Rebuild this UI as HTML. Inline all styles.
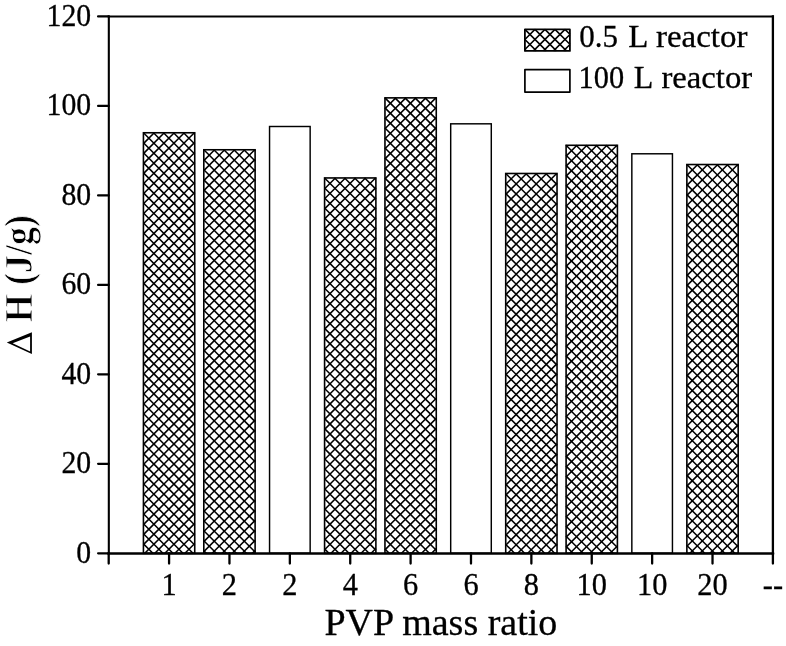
<!DOCTYPE html>
<html><head><meta charset="utf-8"><title>chart</title>
<style>
html,body{margin:0;padding:0;background:#fff;}
body{width:786px;height:646px;overflow:hidden;}
svg{display:block;filter:grayscale(1);}
text{font-family:"Liberation Serif",serif;fill:#000;stroke:#000;stroke-width:0.3px;}
.yt text{font-weight:bold;stroke:#fff;stroke-width:0.8px;}
</style></head><body>
<svg width="786" height="646" viewBox="0 0 786 646">
<rect x="0" y="0" width="786" height="646" fill="#fff"/>
<g stroke="#000" stroke-width="1.55" fill="none"><path d="M143.43,543.83L152.90,553.30M143.43,533.81L162.92,553.30M143.43,523.78L172.95,553.30M143.43,513.76L182.98,553.30M143.43,503.73L193.00,553.30M143.43,493.70L194.73,545.00M143.43,483.68L194.73,534.98M143.43,473.65L194.73,524.95M143.43,463.63L194.73,514.93M143.43,453.60L194.73,504.90M143.43,443.57L194.73,494.87M143.43,433.55L194.73,484.85M143.43,423.52L194.73,474.82M143.43,413.50L194.73,464.80M143.43,403.47L194.73,454.77M143.43,393.44L194.73,444.74M143.43,383.42L194.73,434.72M143.43,373.39L194.73,424.69M143.43,363.37L194.73,414.67M143.43,353.34L194.73,404.64M143.43,343.31L194.73,394.61M143.43,333.29L194.73,384.59M143.43,323.26L194.73,374.56M143.43,313.24L194.73,364.54M143.43,303.21L194.73,354.51M143.43,293.18L194.73,344.48M143.43,283.16L194.73,334.46M143.43,273.13L194.73,324.43M143.43,263.11L194.73,314.41M143.43,253.08L194.73,304.38M143.43,243.05L194.73,294.35M143.43,233.03L194.73,284.33M143.43,223.00L194.73,274.30M143.43,212.98L194.73,264.28M143.43,202.95L194.73,254.25M143.43,192.92L194.73,244.22M143.43,182.90L194.73,234.20M143.43,172.87L194.73,224.17M143.43,162.85L194.73,214.15M143.43,152.82L194.73,204.12M143.43,142.79L194.73,194.09M143.43,132.77L194.73,184.07M153.46,132.77L194.73,174.04M163.48,132.77L194.73,164.02M173.51,132.77L194.73,153.99M183.54,132.77L194.73,143.96M193.56,132.77L194.73,133.94"/><path d="M144.23,132.77L143.43,133.57M154.26,132.77L143.43,143.59M164.28,132.77L143.43,153.62M174.31,132.77L143.43,163.65M184.34,132.77L143.43,173.67M194.36,132.77L143.43,183.70M194.73,142.42L143.43,193.72M194.73,152.45L143.43,203.75M194.73,162.48L143.43,213.78M194.73,172.50L143.43,223.80M194.73,182.53L143.43,233.83M194.73,192.55L143.43,243.85M194.73,202.58L143.43,253.88M194.73,212.61L143.43,263.91M194.73,222.63L143.43,273.93M194.73,232.66L143.43,283.96M194.73,242.68L143.43,293.98M194.73,252.71L143.43,304.01M194.73,262.74L143.43,314.04M194.73,272.76L143.43,324.06M194.73,282.79L143.43,334.09M194.73,292.81L143.43,344.11M194.73,302.84L143.43,354.14M194.73,312.87L143.43,364.17M194.73,322.89L143.43,374.19M194.73,332.92L143.43,384.22M194.73,342.94L143.43,394.24M194.73,352.97L143.43,404.27M194.73,363.00L143.43,414.30M194.73,373.02L143.43,424.32M194.73,383.05L143.43,434.35M194.73,393.07L143.43,444.37M194.73,403.10L143.43,454.40M194.73,413.13L143.43,464.43M194.73,423.15L143.43,474.45M194.73,433.18L143.43,484.48M194.73,443.20L143.43,494.50M194.73,453.23L143.43,504.53M194.73,463.26L143.43,514.56M194.73,473.28L143.43,524.58M194.73,483.31L143.43,534.61M194.73,493.33L143.43,544.63M194.73,503.36L144.79,553.30M194.73,513.39L154.82,553.30M194.73,523.41L164.84,553.30M194.73,533.44L174.87,553.30M194.73,543.46L184.90,553.30"/></g>
<rect x="143.43" y="132.77" width="51.30" height="420.53" fill="none" stroke="#000" stroke-width="1.6"/>
<g stroke="#000" stroke-width="1.55" fill="none"><path d="M203.81,550.81L206.31,553.30M203.81,540.78L216.33,553.30M203.81,530.76L226.36,553.30M203.81,520.73L236.38,553.30M203.81,510.70L246.41,553.30M203.81,500.68L255.11,551.98M203.81,490.65L255.11,541.95M203.81,480.63L255.11,531.93M203.81,470.60L255.11,521.90M203.81,460.57L255.11,511.87M203.81,450.55L255.11,501.85M203.81,440.52L255.11,491.82M203.81,430.50L255.11,481.80M203.81,420.47L255.11,471.77M203.81,410.44L255.11,461.74M203.81,400.42L255.11,451.72M203.81,390.39L255.11,441.69M203.81,380.37L255.11,431.67M203.81,370.34L255.11,421.64M203.81,360.31L255.11,411.61M203.81,350.29L255.11,401.59M203.81,340.26L255.11,391.56M203.81,330.24L255.11,381.54M203.81,320.21L255.11,371.51M203.81,310.18L255.11,361.48M203.81,300.16L255.11,351.46M203.81,290.13L255.11,341.43M203.81,280.11L255.11,331.41M203.81,270.08L255.11,321.38M203.81,260.05L255.11,311.35M203.81,250.03L255.11,301.33M203.81,240.00L255.11,291.30M203.81,229.98L255.11,281.28M203.81,219.95L255.11,271.25M203.81,209.92L255.11,261.22M203.81,199.90L255.11,251.20M203.81,189.87L255.11,241.17M203.81,179.85L255.11,231.15M203.81,169.82L255.11,221.12M203.81,159.79L255.11,211.09M203.81,149.77L255.11,201.07M213.84,149.77L255.11,191.04M223.87,149.77L255.11,181.02M233.89,149.77L255.11,170.99M243.92,149.77L255.11,160.96M253.94,149.77L255.11,150.94"/><path d="M204.61,149.77L203.81,150.57M214.64,149.77L203.81,160.59M224.67,149.77L203.81,170.62M234.69,149.77L203.81,180.65M244.72,149.77L203.81,190.67M254.74,149.77L203.81,200.70M255.11,159.42L203.81,210.72M255.11,169.45L203.81,220.75M255.11,179.48L203.81,230.78M255.11,189.50L203.81,240.80M255.11,199.53L203.81,250.83M255.11,209.55L203.81,260.85M255.11,219.58L203.81,270.88M255.11,229.61L203.81,280.91M255.11,239.63L203.81,290.93M255.11,249.66L203.81,300.96M255.11,259.68L203.81,310.98M255.11,269.71L203.81,321.01M255.11,279.74L203.81,331.04M255.11,289.76L203.81,341.06M255.11,299.79L203.81,351.09M255.11,309.81L203.81,361.11M255.11,319.84L203.81,371.14M255.11,329.87L203.81,381.17M255.11,339.89L203.81,391.19M255.11,349.92L203.81,401.22M255.11,359.94L203.81,411.24M255.11,369.97L203.81,421.27M255.11,380.00L203.81,431.30M255.11,390.02L203.81,441.32M255.11,400.05L203.81,451.35M255.11,410.07L203.81,461.37M255.11,420.10L203.81,471.40M255.11,430.13L203.81,481.43M255.11,440.15L203.81,491.45M255.11,450.18L203.81,501.48M255.11,460.20L203.81,511.50M255.11,470.23L203.81,521.53M255.11,480.26L203.81,531.56M255.11,490.28L203.81,541.58M255.11,500.31L203.81,551.61M255.11,510.33L212.15,553.30M255.11,520.36L222.17,553.30M255.11,530.39L232.20,553.30M255.11,540.41L242.23,553.30M255.11,550.44L252.25,553.30"/></g>
<rect x="203.81" y="149.77" width="51.30" height="403.53" fill="none" stroke="#000" stroke-width="1.6"/>
<rect x="269.55" y="126.50" width="40.60" height="426.80" fill="none" stroke="#000" stroke-width="1.45"/>
<g stroke="#000" stroke-width="1.55" fill="none"><path d="M324.58,548.91L328.96,553.30M324.58,538.89L338.99,553.30M324.58,528.86L349.01,553.30M324.58,518.84L359.04,553.30M324.58,508.81L369.07,553.30M324.58,498.78L375.88,550.08M324.58,488.76L375.88,540.06M324.58,478.73L375.88,530.03M324.58,468.71L375.88,520.01M324.58,458.68L375.88,509.98M324.58,448.65L375.88,499.95M324.58,438.63L375.88,489.93M324.58,428.60L375.88,479.90M324.58,418.58L375.88,469.88M324.58,408.55L375.88,459.85M324.58,398.52L375.88,449.82M324.58,388.50L375.88,439.80M324.58,378.47L375.88,429.77M324.58,368.45L375.88,419.75M324.58,358.42L375.88,409.72M324.58,348.39L375.88,399.69M324.58,338.37L375.88,389.67M324.58,328.34L375.88,379.64M324.58,318.32L375.88,369.62M324.58,308.29L375.88,359.59M324.58,298.26L375.88,349.56M324.58,288.24L375.88,339.54M324.58,278.21L375.88,329.51M324.58,268.19L375.88,319.49M324.58,258.16L375.88,309.46M324.58,248.13L375.88,299.43M324.58,238.11L375.88,289.41M324.58,228.08L375.88,279.38M324.58,218.06L375.88,269.36M324.58,208.03L375.88,259.33M324.58,198.00L375.88,249.30M324.58,187.98L375.88,239.28M324.58,177.95L375.88,229.25M334.60,177.95L375.88,219.23M344.63,177.95L375.88,209.20M354.66,177.95L375.88,199.17M364.68,177.95L375.88,189.15M374.71,177.95L375.88,179.12"/><path d="M325.38,177.95L324.58,178.75M335.40,177.95L324.58,188.78M345.43,177.95L324.58,198.80M355.46,177.95L324.58,208.83M365.48,177.95L324.58,218.86M375.51,177.95L324.58,228.88M375.88,187.61L324.58,238.91M375.88,197.63L324.58,248.93M375.88,207.66L324.58,258.96M375.88,217.69L324.58,268.99M375.88,227.71L324.58,279.01M375.88,237.74L324.58,289.04M375.88,247.76L324.58,299.06M375.88,257.79L324.58,309.09M375.88,267.82L324.58,319.12M375.88,277.84L324.58,329.14M375.88,287.87L324.58,339.17M375.88,297.89L324.58,349.19M375.88,307.92L324.58,359.22M375.88,317.95L324.58,369.25M375.88,327.97L324.58,379.27M375.88,338.00L324.58,389.30M375.88,348.02L324.58,399.32M375.88,358.05L324.58,409.35M375.88,368.08L324.58,419.38M375.88,378.10L324.58,429.40M375.88,388.13L324.58,439.43M375.88,398.15L324.58,449.45M375.88,408.18L324.58,459.48M375.88,418.21L324.58,469.51M375.88,428.23L324.58,479.53M375.88,438.26L324.58,489.56M375.88,448.28L324.58,499.58M375.88,458.31L324.58,509.61M375.88,468.34L324.58,519.64M375.88,478.36L324.58,529.66M375.88,488.39L324.58,539.69M375.88,498.41L324.58,549.71M375.88,508.44L331.02,553.30M375.88,518.47L341.04,553.30M375.88,528.49L351.07,553.30M375.88,538.52L361.10,553.30M375.88,548.54L371.12,553.30"/></g>
<rect x="324.58" y="177.95" width="51.30" height="375.35" fill="none" stroke="#000" stroke-width="1.6"/>
<g stroke="#000" stroke-width="1.55" fill="none"><path d="M384.96,549.04L389.22,553.30M384.96,539.02L399.24,553.30M384.96,528.99L409.27,553.30M384.96,518.96L419.29,553.30M384.96,508.94L429.32,553.30M384.96,498.91L436.26,550.21M384.96,488.89L436.26,540.19M384.96,478.86L436.26,530.16M384.96,468.83L436.26,520.13M384.96,458.81L436.26,510.11M384.96,448.78L436.26,500.08M384.96,438.76L436.26,490.06M384.96,428.73L436.26,480.03M384.96,418.70L436.26,470.00M384.96,408.68L436.26,459.98M384.96,398.65L436.26,449.95M384.96,388.63L436.26,439.93M384.96,378.60L436.26,429.90M384.96,368.57L436.26,419.87M384.96,358.55L436.26,409.85M384.96,348.52L436.26,399.82M384.96,338.50L436.26,389.80M384.96,328.47L436.26,379.77M384.96,318.44L436.26,369.74M384.96,308.42L436.26,359.72M384.96,298.39L436.26,349.69M384.96,288.37L436.26,339.67M384.96,278.34L436.26,329.64M384.96,268.31L436.26,319.61M384.96,258.29L436.26,309.59M384.96,248.26L436.26,299.56M384.96,238.24L436.26,289.54M384.96,228.21L436.26,279.51M384.96,218.18L436.26,269.48M384.96,208.16L436.26,259.46M384.96,198.13L436.26,249.43M384.96,188.11L436.26,239.41M384.96,178.08L436.26,229.38M384.96,168.05L436.26,219.35M384.96,158.03L436.26,209.33M384.96,148.00L436.26,199.30M384.96,137.98L436.26,189.28M384.96,127.95L436.26,179.25M384.96,117.92L436.26,169.22M384.96,107.90L436.26,159.20M384.96,97.87L436.26,149.17M394.99,97.87L436.26,139.15M405.01,97.87L436.26,129.12M415.04,97.87L436.26,119.09M425.06,97.87L436.26,109.07M435.09,97.87L436.26,99.04"/><path d="M385.76,97.87L384.96,98.67M395.79,97.87L384.96,108.70M405.81,97.87L384.96,118.72M415.84,97.87L384.96,128.75M425.86,97.87L384.96,138.78M435.89,97.87L384.96,148.80M436.26,107.53L384.96,158.83M436.26,117.55L384.96,168.85M436.26,127.58L384.96,178.88M436.26,137.61L384.96,188.91M436.26,147.63L384.96,198.93M436.26,157.66L384.96,208.96M436.26,167.68L384.96,218.98M436.26,177.71L384.96,229.01M436.26,187.74L384.96,239.04M436.26,197.76L384.96,249.06M436.26,207.79L384.96,259.09M436.26,217.81L384.96,269.11M436.26,227.84L384.96,279.14M436.26,237.87L384.96,289.17M436.26,247.89L384.96,299.19M436.26,257.92L384.96,309.22M436.26,267.94L384.96,319.24M436.26,277.97L384.96,329.27M436.26,288.00L384.96,339.30M436.26,298.02L384.96,349.32M436.26,308.05L384.96,359.35M436.26,318.07L384.96,369.37M436.26,328.10L384.96,379.40M436.26,338.13L384.96,389.43M436.26,348.15L384.96,399.45M436.26,358.18L384.96,409.48M436.26,368.20L384.96,419.50M436.26,378.23L384.96,429.53M436.26,388.26L384.96,439.56M436.26,398.28L384.96,449.58M436.26,408.31L384.96,459.61M436.26,418.33L384.96,469.63M436.26,428.36L384.96,479.66M436.26,438.39L384.96,489.69M436.26,448.41L384.96,499.71M436.26,458.44L384.96,509.74M436.26,468.46L384.96,519.76M436.26,478.49L384.96,529.79M436.26,488.52L384.96,539.82M436.26,498.54L384.96,549.84M436.26,508.57L391.53,553.30M436.26,518.59L401.55,553.30M436.26,528.62L411.58,553.30M436.26,538.65L421.61,553.30M436.26,548.67L431.63,553.30"/></g>
<rect x="384.96" y="97.87" width="51.30" height="455.43" fill="none" stroke="#000" stroke-width="1.6"/>
<rect x="450.69" y="123.82" width="40.60" height="429.48" fill="none" stroke="#000" stroke-width="1.45"/>
<g stroke="#000" stroke-width="1.55" fill="none"><path d="M505.72,544.44L514.58,553.30M505.72,534.41L524.61,553.30M505.72,524.39L534.63,553.30M505.72,514.36L544.66,553.30M505.72,504.34L554.69,553.30M505.72,494.31L557.02,545.61M505.72,484.28L557.02,535.58M505.72,474.26L557.02,525.56M505.72,464.23L557.02,515.53M505.72,454.21L557.02,505.51M505.72,444.18L557.02,495.48M505.72,434.15L557.02,485.45M505.72,424.13L557.02,475.43M505.72,414.10L557.02,465.40M505.72,404.08L557.02,455.38M505.72,394.05L557.02,445.35M505.72,384.02L557.02,435.32M505.72,374.00L557.02,425.30M505.72,363.97L557.02,415.27M505.72,353.95L557.02,405.25M505.72,343.92L557.02,395.22M505.72,333.89L557.02,385.19M505.72,323.87L557.02,375.17M505.72,313.84L557.02,365.14M505.72,303.82L557.02,355.12M505.72,293.79L557.02,345.09M505.72,283.76L557.02,335.06M505.72,273.74L557.02,325.04M505.72,263.71L557.02,315.01M505.72,253.69L557.02,304.99M505.72,243.66L557.02,294.96M505.72,233.63L557.02,284.93M505.72,223.61L557.02,274.91M505.72,213.58L557.02,264.88M505.72,203.56L557.02,254.86M505.72,193.53L557.02,244.83M505.72,183.50L557.02,234.80M505.72,173.48L557.02,224.78M515.75,173.48L557.02,214.75M525.77,173.48L557.02,204.73M535.80,173.48L557.02,194.70M545.83,173.48L557.02,184.67M555.85,173.48L557.02,174.65"/><path d="M506.52,173.48L505.72,174.28M516.55,173.48L505.72,184.30M526.57,173.48L505.72,194.33M536.60,173.48L505.72,204.36M546.63,173.48L505.72,214.38M556.65,173.48L505.72,224.41M557.02,183.13L505.72,234.43M557.02,193.16L505.72,244.46M557.02,203.19L505.72,254.49M557.02,213.21L505.72,264.51M557.02,223.24L505.72,274.54M557.02,233.26L505.72,284.56M557.02,243.29L505.72,294.59M557.02,253.32L505.72,304.62M557.02,263.34L505.72,314.64M557.02,273.37L505.72,324.67M557.02,283.39L505.72,334.69M557.02,293.42L505.72,344.72M557.02,303.45L505.72,354.75M557.02,313.47L505.72,364.77M557.02,323.50L505.72,374.80M557.02,333.52L505.72,384.82M557.02,343.55L505.72,394.85M557.02,353.58L505.72,404.88M557.02,363.60L505.72,414.90M557.02,373.63L505.72,424.93M557.02,383.65L505.72,434.95M557.02,393.68L505.72,444.98M557.02,403.71L505.72,455.01M557.02,413.73L505.72,465.03M557.02,423.76L505.72,475.06M557.02,433.78L505.72,485.08M557.02,443.81L505.72,495.11M557.02,453.84L505.72,505.14M557.02,463.86L505.72,515.16M557.02,473.89L505.72,525.19M557.02,483.91L505.72,535.21M557.02,493.94L505.72,545.24M557.02,503.97L507.69,553.30M557.02,513.99L517.72,553.30M557.02,524.02L527.74,553.30M557.02,534.04L537.77,553.30M557.02,544.07L547.79,553.30"/></g>
<rect x="505.72" y="173.48" width="51.30" height="379.82" fill="none" stroke="#000" stroke-width="1.6"/>
<g stroke="#000" stroke-width="1.55" fill="none"><path d="M566.10,546.33L573.07,553.30M566.10,536.31L583.10,553.30M566.10,526.28L593.12,553.30M566.10,516.26L603.15,553.30M566.10,506.23L613.17,553.30M566.10,496.20L617.40,547.50M566.10,486.18L617.40,537.48M566.10,476.15L617.40,527.45M566.10,466.13L617.40,517.43M566.10,456.10L617.40,507.40M566.10,446.07L617.40,497.37M566.10,436.05L617.40,487.35M566.10,426.02L617.40,477.32M566.10,416.00L617.40,467.30M566.10,405.97L617.40,457.27M566.10,395.94L617.40,447.24M566.10,385.92L617.40,437.22M566.10,375.89L617.40,427.19M566.10,365.87L617.40,417.17M566.10,355.84L617.40,407.14M566.10,345.81L617.40,397.11M566.10,335.79L617.40,387.09M566.10,325.76L617.40,377.06M566.10,315.74L617.40,367.04M566.10,305.71L617.40,357.01M566.10,295.68L617.40,346.98M566.10,285.66L617.40,336.96M566.10,275.63L617.40,326.93M566.10,265.61L617.40,316.91M566.10,255.58L617.40,306.88M566.10,245.55L617.40,296.85M566.10,235.53L617.40,286.83M566.10,225.50L617.40,276.80M566.10,215.48L617.40,266.78M566.10,205.45L617.40,256.75M566.10,195.42L617.40,246.72M566.10,185.40L617.40,236.70M566.10,175.37L617.40,226.67M566.10,165.35L617.40,216.65M566.10,155.32L617.40,206.62M566.10,145.29L617.40,196.59M576.13,145.29L617.40,186.57M586.16,145.29L617.40,176.54M596.18,145.29L617.40,166.52M606.21,145.29L617.40,156.49M616.23,145.29L617.40,146.46"/><path d="M566.90,145.29L566.10,146.09M576.93,145.29L566.10,156.12M586.96,145.29L566.10,166.15M596.98,145.29L566.10,176.17M607.01,145.29L566.10,186.20M617.03,145.29L566.10,196.22M617.40,154.95L566.10,206.25M617.40,164.98L566.10,216.28M617.40,175.00L566.10,226.30M617.40,185.03L566.10,236.33M617.40,195.05L566.10,246.35M617.40,205.08L566.10,256.38M617.40,215.11L566.10,266.41M617.40,225.13L566.10,276.43M617.40,235.16L566.10,286.46M617.40,245.18L566.10,296.48M617.40,255.21L566.10,306.51M617.40,265.24L566.10,316.54M617.40,275.26L566.10,326.56M617.40,285.29L566.10,336.59M617.40,295.31L566.10,346.61M617.40,305.34L566.10,356.64M617.40,315.37L566.10,366.67M617.40,325.39L566.10,376.69M617.40,335.42L566.10,386.72M617.40,345.44L566.10,396.74M617.40,355.47L566.10,406.77M617.40,365.50L566.10,416.80M617.40,375.52L566.10,426.82M617.40,385.55L566.10,436.85M617.40,395.57L566.10,446.87M617.40,405.60L566.10,456.90M617.40,415.63L566.10,466.93M617.40,425.65L566.10,476.95M617.40,435.68L566.10,486.98M617.40,445.70L566.10,497.00M617.40,455.73L566.10,507.03M617.40,465.76L566.10,517.06M617.40,475.78L566.10,527.08M617.40,485.81L566.10,537.11M617.40,495.83L566.10,547.13M617.40,505.86L569.96,553.30M617.40,515.89L579.99,553.30M617.40,525.91L590.02,553.30M617.40,535.94L600.04,553.30M617.40,545.96L610.07,553.30"/></g>
<rect x="566.10" y="145.29" width="51.30" height="408.01" fill="none" stroke="#000" stroke-width="1.6"/>
<rect x="631.84" y="153.79" width="40.60" height="399.51" fill="none" stroke="#000" stroke-width="1.45"/>
<g stroke="#000" stroke-width="1.55" fill="none"><path d="M686.87,545.52L694.65,553.30M686.87,535.49L704.68,553.30M686.87,525.47L714.70,553.30M686.87,515.44L724.73,553.30M686.87,505.42L734.75,553.30M686.87,495.39L738.17,546.69M686.87,485.36L738.17,536.66M686.87,475.34L738.17,526.64M686.87,465.31L738.17,516.61M686.87,455.29L738.17,506.59M686.87,445.26L738.17,496.56M686.87,435.23L738.17,486.53M686.87,425.21L738.17,476.51M686.87,415.18L738.17,466.48M686.87,405.16L738.17,456.46M686.87,395.13L738.17,446.43M686.87,385.10L738.17,436.40M686.87,375.08L738.17,426.38M686.87,365.05L738.17,416.35M686.87,355.03L738.17,406.33M686.87,345.00L738.17,396.30M686.87,334.97L738.17,386.27M686.87,324.95L738.17,376.25M686.87,314.92L738.17,366.22M686.87,304.90L738.17,356.20M686.87,294.87L738.17,346.17M686.87,284.84L738.17,336.14M686.87,274.82L738.17,326.12M686.87,264.79L738.17,316.09M686.87,254.77L738.17,306.07M686.87,244.74L738.17,296.04M686.87,234.71L738.17,286.01M686.87,224.69L738.17,275.99M686.87,214.66L738.17,265.96M686.87,204.64L738.17,255.94M686.87,194.61L738.17,245.91M686.87,184.58L738.17,235.88M686.87,174.56L738.17,225.86M686.87,164.53L738.17,215.83M696.89,164.53L738.17,205.81M706.92,164.53L738.17,195.78M716.95,164.53L738.17,185.75M726.97,164.53L738.17,175.73M737.00,164.53L738.17,165.70"/><path d="M687.67,164.53L686.87,165.33M697.69,164.53L686.87,175.36M707.72,164.53L686.87,185.38M717.75,164.53L686.87,195.41M727.77,164.53L686.87,205.44M737.80,164.53L686.87,215.46M738.17,174.19L686.87,225.49M738.17,184.21L686.87,235.51M738.17,194.24L686.87,245.54M738.17,204.27L686.87,255.57M738.17,214.29L686.87,265.59M738.17,224.32L686.87,275.62M738.17,234.34L686.87,285.64M738.17,244.37L686.87,295.67M738.17,254.40L686.87,305.70M738.17,264.42L686.87,315.72M738.17,274.45L686.87,325.75M738.17,284.47L686.87,335.77M738.17,294.50L686.87,345.80M738.17,304.53L686.87,355.83M738.17,314.55L686.87,365.85M738.17,324.58L686.87,375.88M738.17,334.60L686.87,385.90M738.17,344.63L686.87,395.93M738.17,354.66L686.87,405.96M738.17,364.68L686.87,415.98M738.17,374.71L686.87,426.01M738.17,384.73L686.87,436.03M738.17,394.76L686.87,446.06M738.17,404.79L686.87,456.09M738.17,414.81L686.87,466.11M738.17,424.84L686.87,476.14M738.17,434.86L686.87,486.16M738.17,444.89L686.87,496.19M738.17,454.92L686.87,506.22M738.17,464.94L686.87,516.24M738.17,474.97L686.87,526.27M738.17,484.99L686.87,536.29M738.17,495.02L686.87,546.32M738.17,505.05L689.91,553.30M738.17,515.07L699.94,553.30M738.17,525.10L709.97,553.30M738.17,535.12L719.99,553.30M738.17,545.15L730.02,553.30"/></g>
<rect x="686.87" y="164.53" width="51.30" height="388.77" fill="none" stroke="#000" stroke-width="1.6"/>
<g stroke="#000" stroke-linecap="square"><line x1="108.7" y1="16.45" x2="772.9" y2="16.45" stroke-width="2.0"/><line x1="108.7" y1="553.4" x2="772.9" y2="553.4" stroke-width="2.5"/><line x1="108.82000000000001" y1="16.45" x2="108.82000000000001" y2="553.3" stroke-width="2.1"/><line x1="772.9" y1="16.45" x2="772.9" y2="553.3" stroke-width="2.3"/></g>
<line x1="98.10" y1="553.30" x2="108.70" y2="553.30" stroke="#000" stroke-width="2.3" stroke-linecap="round"/>
<text transform="translate(91.2,562.75) scale(0.96,1)" font-size="31" text-anchor="end">0</text>
<line x1="98.10" y1="463.82" x2="108.70" y2="463.82" stroke="#000" stroke-width="2.3" stroke-linecap="round"/>
<text transform="translate(91.2,473.27) scale(0.96,1)" font-size="31" text-anchor="end">20</text>
<line x1="98.10" y1="374.35" x2="108.70" y2="374.35" stroke="#000" stroke-width="2.3" stroke-linecap="round"/>
<text transform="translate(91.2,383.80) scale(0.96,1)" font-size="31" text-anchor="end">40</text>
<line x1="98.10" y1="284.88" x2="108.70" y2="284.88" stroke="#000" stroke-width="2.3" stroke-linecap="round"/>
<text transform="translate(91.2,294.32) scale(0.96,1)" font-size="31" text-anchor="end">60</text>
<line x1="98.10" y1="195.40" x2="108.70" y2="195.40" stroke="#000" stroke-width="2.3" stroke-linecap="round"/>
<text transform="translate(91.2,204.85) scale(0.96,1)" font-size="31" text-anchor="end">80</text>
<line x1="98.10" y1="105.93" x2="108.70" y2="105.93" stroke="#000" stroke-width="2.3" stroke-linecap="round"/>
<text transform="translate(91.2,115.38) scale(0.96,1)" font-size="31" text-anchor="end">100</text>
<line x1="98.10" y1="16.45" x2="108.70" y2="16.45" stroke="#000" stroke-width="2.3" stroke-linecap="round"/>
<text transform="translate(91.2,25.90) scale(0.96,1)" font-size="31" text-anchor="end">120</text>
<line x1="108.70" y1="553.30" x2="108.70" y2="563.50" stroke="#000" stroke-width="2.3" stroke-linecap="round"/>
<line x1="169.08" y1="553.30" x2="169.08" y2="563.50" stroke="#000" stroke-width="2.3" stroke-linecap="round"/>
<text transform="translate(169.08,594.9) scale(0.98,1)" font-size="31" text-anchor="middle">1</text>
<line x1="229.46" y1="553.30" x2="229.46" y2="563.50" stroke="#000" stroke-width="2.3" stroke-linecap="round"/>
<text transform="translate(229.46,594.9) scale(0.98,1)" font-size="31" text-anchor="middle">2</text>
<line x1="289.85" y1="553.30" x2="289.85" y2="563.50" stroke="#000" stroke-width="2.3" stroke-linecap="round"/>
<text transform="translate(289.85,594.9) scale(0.98,1)" font-size="31" text-anchor="middle">2</text>
<line x1="350.23" y1="553.30" x2="350.23" y2="563.50" stroke="#000" stroke-width="2.3" stroke-linecap="round"/>
<text transform="translate(350.23,594.9) scale(0.98,1)" font-size="31" text-anchor="middle">4</text>
<line x1="410.61" y1="553.30" x2="410.61" y2="563.50" stroke="#000" stroke-width="2.3" stroke-linecap="round"/>
<text transform="translate(410.61,594.9) scale(0.98,1)" font-size="31" text-anchor="middle">6</text>
<line x1="470.99" y1="553.30" x2="470.99" y2="563.50" stroke="#000" stroke-width="2.3" stroke-linecap="round"/>
<text transform="translate(470.99,594.9) scale(0.98,1)" font-size="31" text-anchor="middle">6</text>
<line x1="531.37" y1="553.30" x2="531.37" y2="563.50" stroke="#000" stroke-width="2.3" stroke-linecap="round"/>
<text transform="translate(531.37,594.9) scale(0.98,1)" font-size="31" text-anchor="middle">8</text>
<line x1="591.75" y1="553.30" x2="591.75" y2="563.50" stroke="#000" stroke-width="2.3" stroke-linecap="round"/>
<text transform="translate(591.75,594.9) scale(0.98,1)" font-size="31" text-anchor="middle">10</text>
<line x1="652.14" y1="553.30" x2="652.14" y2="563.50" stroke="#000" stroke-width="2.3" stroke-linecap="round"/>
<text transform="translate(652.14,594.9) scale(0.98,1)" font-size="31" text-anchor="middle">10</text>
<line x1="712.52" y1="553.30" x2="712.52" y2="563.50" stroke="#000" stroke-width="2.3" stroke-linecap="round"/>
<text transform="translate(712.52,594.9) scale(0.98,1)" font-size="31" text-anchor="middle">20</text>
<line x1="772.90" y1="553.30" x2="772.90" y2="563.50" stroke="#000" stroke-width="2.3" stroke-linecap="round"/>
<text transform="translate(772.90,594.9) scale(0.98,1)" font-size="31" text-anchor="middle">--</text>
<g stroke="#000" stroke-width="1.55" fill="none"><path d="M524.90,49.45L526.35,50.90M524.90,39.43L536.37,50.90M524.90,29.40L546.40,50.90M534.93,29.40L556.43,50.90M544.95,29.40L566.45,50.90M554.98,29.40L569.90,44.32M565.00,29.40L569.90,34.30"/><path d="M534.93,29.40L524.90,39.43M544.95,29.40L524.90,49.45M554.98,29.40L533.48,50.90M565.00,29.40L543.50,50.90M569.90,34.53L553.53,50.90M569.90,44.56L563.56,50.90"/></g>
<rect x="524.9" y="29.4" width="45" height="21.5" fill="none" stroke="#000" stroke-width="1.8" stroke-linejoin="round"/>
<rect x="524.9" y="69.6" width="45" height="22.5" fill="#fff" stroke="#000" stroke-width="1.7" stroke-linejoin="round"/>
<text transform="translate(579.3,46.6) scale(0.97,1)" font-size="32">0.5</text><text transform="translate(628.3,46.6) scale(1.03,1)" font-size="32">L</text><text transform="translate(656.0,46.6) scale(1.03,1)" font-size="32">reactor</text>
<text transform="translate(578.6,87.8) scale(0.95,1)" font-size="32">100</text><text transform="translate(633.7,87.8) scale(1.0,1)" font-size="32">L</text><text transform="translate(661.4,87.8) scale(1.022,1)" font-size="32">reactor</text>
<text transform="translate(440.85,634.85) scale(1.027,1)" font-size="37" text-anchor="middle">PVP mass ratio</text>
<g class="yt" font-size="36.0" text-anchor="middle">
<text transform="translate(32.3,250.0) rotate(-90) scale(1,1.1)">(J/g)</text>
<text transform="translate(32.3,308.2) rotate(-90) scale(1,1.1)">H</text>
</g>
<path d="M6.8,342.5L31.9,332.2L31.9,353.9ZM12.6,343.3L30.1,351.5L30.1,336.6Z" fill="#000" fill-rule="evenodd"/>
</svg></body></html>
